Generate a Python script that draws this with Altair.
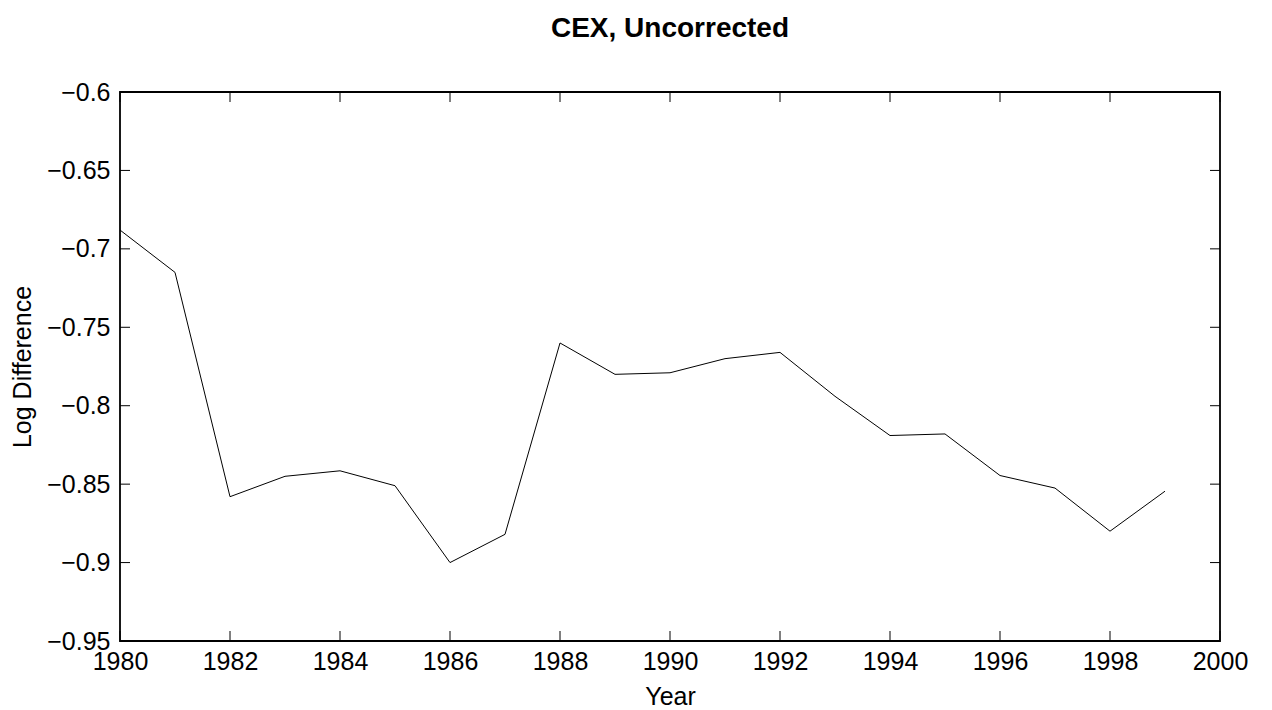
import altair as alt
import pandas as pd

title_text = "CEX, Uncorrected"
years = list(range(1980, 2000))
values = [-0.688, -0.715, -0.858, -0.845, -0.8415, -0.851, -0.900, -0.882,
          -0.760, -0.780, -0.779, -0.770, -0.766, -0.794, -0.819, -0.818,
          -0.8445, -0.8525, -0.880, -0.8545]
x_ticks = [1980, 1982, 1984, 1986, 1988, 1990, 1992, 1994, 1996, 1998, 2000]
y_ticks = [-0.95, -0.9, -0.85, -0.8, -0.75, -0.7, -0.65, -0.6]

W, H = 1100, 549
FONT = "Liberation Sans"

df = pd.DataFrame({"Year": years, "Value": values})
xt = pd.DataFrame({"t": x_ticks})
yt = pd.DataFrame({"t": y_ticks})

xscale = alt.Scale(domain=[1980, 2000], nice=False, zero=False)
yscale = alt.Scale(domain=[-0.95, -0.6], nice=False, zero=False)

line = alt.Chart(df).mark_line(color="black", strokeWidth=1).encode(
    x=alt.X("Year:Q", scale=xscale,
            axis=alt.Axis(values=x_ticks, format="d", title="Year",
                          labelPadding=8, titlePadding=10, grid=False,
                          ticks=False, domain=False, labelFlush=False,
                          labelOverlap=False)),
    y=alt.Y("Value:Q", scale=yscale,
            axis=alt.Axis(values=y_ticks, format="~g", title="Log Difference",
                          labelPadding=10, titlePadding=11, grid=False,
                          ticks=False, domain=False, labelFlush=False,
                          labelOverlap=False)),
)

tick_len = 10
bx = alt.Chart(xt).mark_rule(color="black", strokeWidth=1).encode(
    x=alt.X("t:Q", scale=xscale), y=alt.value(H), y2=alt.value(H - tick_len))
tx = alt.Chart(xt).mark_rule(color="black", strokeWidth=1).encode(
    x=alt.X("t:Q", scale=xscale), y=alt.value(0), y2=alt.value(tick_len))
ly = alt.Chart(yt).mark_rule(color="black", strokeWidth=1).encode(
    y=alt.Y("t:Q", scale=yscale), x=alt.value(0), x2=alt.value(tick_len))
ry = alt.Chart(yt).mark_rule(color="black", strokeWidth=1).encode(
    y=alt.Y("t:Q", scale=yscale), x=alt.value(W), x2=alt.value(W - tick_len))

title = alt.Chart(pd.DataFrame({"label": [title_text]})).mark_text(
    font=FONT, fontSize=28, fontWeight="bold", color="black",
    align="center", baseline="alphabetic",
).encode(text="label:N", x=alt.value(W / 2), y=alt.value(-55))

chart = alt.layer(line, bx, tx, ly, ry, title).properties(
    width=W, height=H,
    background="white",
    autosize=alt.AutoSizeParams(type="none"),
    padding={"left": 112, "top": 84, "right": 44, "bottom": 68},
).configure_view(stroke="black", strokeWidth=1.8).configure_axis(
    labelFont=FONT, labelFontSize=25, labelColor="black",
    titleFont=FONT, titleFontSize=25, titleColor="black",
    titleFontWeight="normal",
)

chart.save("out.html", embed_options={"renderer": "svg", "actions": False})
